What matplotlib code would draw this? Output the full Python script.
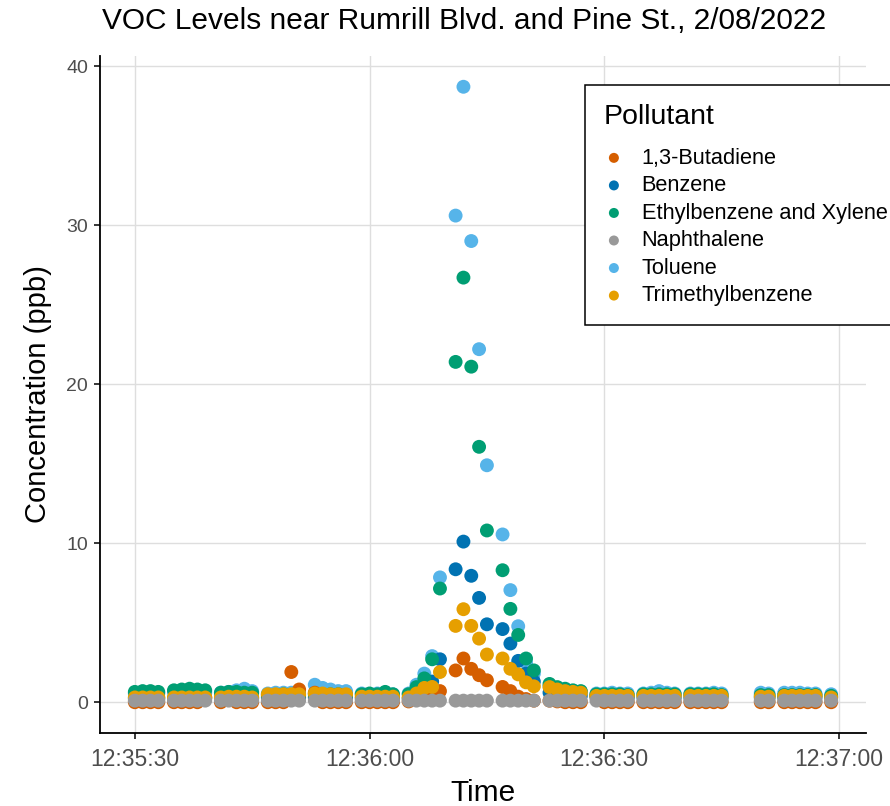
import matplotlib
matplotlib.use("Agg")
import matplotlib.pyplot as plt
import matplotlib.dates as mdates
import numpy as np
import pandas as pd

plt.rcParams['font.family'] = ['Liberation Sans', 'DejaVu Sans']

# seconds after 12:35:30 on 2/08/2022
seconds = [0, 1, 2, 3,
           5, 6, 7, 8, 9,
           11, 12, 13, 14, 15,
           17, 18, 19, 20, 21,
           23, 24, 25, 26, 27,
           29, 30, 31, 32, 33,
           35, 36, 37, 38, 39,
           41, 42, 43, 44, 45,
           47, 48, 49, 50, 51,
           53, 54, 55, 56, 57,
           59, 60, 61, 62, 63,
           65, 66, 67, 68, 69,
           71, 72, 73, 74, 75,
           80, 81,
           83, 84, 85, 86, 87,
           89]

butadiene = [0.0, 0.0, 0.0, 0.0,
             0.0, 0.0, 0.0, 0.0, 0.3,
             0.0, 0.4, 0.0, 0.0, 0.0,
             0.0, 0.0, 0.0, 1.9, 0.8,
             0.6, 0.0, 0.0, 0.0, 0.0,
             0.0, 0.0, 0.0, 0.0, 0.0,
             0.05, 0.15, 0.35, 0.5, 0.7,
             2.0, 2.75, 2.1, 1.7, 1.38,
             0.96, 0.7, 0.35, 0.2, 0.1,
             0.1, 0.05, 0.0, 0.0, 0.0,
             0.4, 0.0, 0.0, 0.0, 0.0,
             0.0, 0.0, 0.0, 0.0, 0.0,
             0.0, 0.0, 0.0, 0.0, 0.0,
             0.0, 0.0,
             0.0, 0.0, 0.0, 0.0, 0.0,
             0.0]

benzene = [0.25, 0.25, 0.25, 0.25,
           0.25, 0.3, 0.3, 0.3, 0.25,
           0.25, 0.25, 0.3, 0.3, 0.25,
           0.3, 0.3, 0.3, 0.3, 0.3,
           0.3, 0.3, 0.3, 0.3, 0.3,
           0.25, 0.25, 0.3, 0.5, 0.3,
           0.25, 0.6, 1.0, 1.3, 2.7,
           8.36, 10.1, 7.95, 6.56, 4.9,
           4.6, 3.69, 2.6, 1.8, 1.3,
           0.6, 0.5, 0.45, 0.4, 0.4,
           0.3, 0.3, 0.3, 0.3, 0.3,
           0.3, 0.3, 0.3, 0.3, 0.3,
           0.3, 0.3, 0.3, 0.3, 0.3,
           0.3, 0.3,
           0.3, 0.3, 0.3, 0.3, 0.3,
           0.3]

ethylbenzene_xylene = [0.65, 0.7, 0.7, 0.65,
                       0.75, 0.8, 0.85, 0.8, 0.75,
                       0.6, 0.65, 0.65, 0.6, 0.6,
                       0.45, 0.45, 0.5, 0.45, 0.45,
                       0.5, 0.5, 0.5, 0.5, 0.45,
                       0.5, 0.55, 0.5, 0.65, 0.5,
                       0.5, 0.95, 1.5, 2.7, 7.15,
                       21.4, 26.7, 21.1, 16.06, 10.8,
                       8.3, 5.87, 4.23, 2.75, 2.0,
                       1.15, 0.95, 0.85, 0.75, 0.7,
                       0.5, 0.5, 0.5, 0.5, 0.45,
                       0.5, 0.5, 0.5, 0.5, 0.5,
                       0.5, 0.5, 0.5, 0.5, 0.45,
                       0.45, 0.45,
                       0.45, 0.45, 0.45, 0.45, 0.45,
                       0.4]

naphthalene = [0.1] * len(seconds)

toluene = [0.55, 0.55, 0.55, 0.55,
           0.6, 0.6, 0.65, 0.65, 0.6,
           0.6, 0.65, 0.75, 0.85, 0.7,
           0.55, 0.6, 0.6, 0.6, 0.55,
           1.1, 0.9, 0.8, 0.7, 0.7,
           0.55, 0.5, 0.55, 0.55, 0.5,
           0.55, 1.1, 1.8, 2.9, 7.85,
           30.6, 38.7, 29.0, 22.2, 14.9,
           10.55, 7.05, 4.78, 2.5, 1.8,
           1.0, 0.85, 0.8, 0.7, 0.65,
           0.55, 0.55, 0.6, 0.55, 0.55,
           0.55, 0.6, 0.7, 0.6, 0.55,
           0.55, 0.55, 0.55, 0.6, 0.55,
           0.6, 0.55,
           0.6, 0.6, 0.6, 0.55, 0.55,
           0.5]

trimethylbenzene = [0.3, 0.3, 0.3, 0.3,
                    0.3, 0.3, 0.3, 0.3, 0.3,
                    0.3, 0.35, 0.35, 0.35, 0.3,
                    0.5, 0.5, 0.5, 0.5, 0.5,
                    0.55, 0.55, 0.5, 0.5, 0.5,
                    0.35, 0.35, 0.35, 0.35, 0.35,
                    0.3, 0.55, 0.9, 0.96, 1.9,
                    4.8, 5.85, 4.8, 4.0, 3.0,
                    2.75, 2.1, 1.75, 1.25, 1.0,
                    0.95, 0.8, 0.7, 0.65, 0.6,
                    0.4, 0.4, 0.4, 0.4, 0.4,
                    0.4, 0.4, 0.4, 0.4, 0.4,
                    0.4, 0.4, 0.4, 0.4, 0.4,
                    0.35, 0.35,
                    0.4, 0.4, 0.4, 0.4, 0.4,
                    0.3]

pollutants = ["1,3-Butadiene", "Benzene", "Ethylbenzene and Xylene",
              "Naphthalene", "Toluene", "Trimethylbenzene"]
series = [butadiene, benzene, ethylbenzene_xylene, naphthalene, toluene, trimethylbenzene]
colors = ["#D55E00", "#0072B2", "#009E73", "#999999", "#56B4E9", "#E69F00"]
# stacking order of the point layers, bottom first
draw_order = [4, 1, 0, 2, 5, 3]

base = pd.Timestamp("2022-02-08 12:35:30")
times = base + pd.to_timedelta(seconds, unit="s")

fig = plt.figure(figsize=(8.9, 8.06), dpi=100)
ax = fig.add_axes([100/890, 1 - 733/806, 766/890, 677/806])

handles = [None] * len(pollutants)
for z, i in enumerate(draw_order):
    handles[i] = ax.scatter(times, series[i], s=100, color=colors[i], edgecolors='none',
                            label=pollutants[i], zorder=3 + z)

# ggplot-like expansion
span = seconds[-1] - seconds[0]
ax.set_xlim(base + pd.Timedelta(seconds=seconds[0] - 0.05*span),
            base + pd.Timedelta(seconds=seconds[-1] + 0.05*span))
ymax = max(toluene)
ax.set_ylim(-0.05*ymax, ymax*1.05)

ax.xaxis.set_major_locator(mdates.SecondLocator(bysecond=[0, 30]))
ax.xaxis.set_major_formatter(mdates.DateFormatter('%H:%M:%S'))
ax.set_yticks([0, 10, 20, 30, 40])

ax.grid(True, color='#DEDEDE', linewidth=1.0, zorder=0)
ax.set_axisbelow(True)
for sp in ['top', 'right']:
    ax.spines[sp].set_visible(False)
for sp in ['left', 'bottom']:
    ax.spines[sp].set_linewidth(1.3)
    ax.spines[sp].set_color('black')
ax.tick_params(axis='both', length=4.5, width=1.1, color='black',
               labelcolor='#4D4D4D', pad=4)
ax.tick_params(axis='x', labelsize=16.5, pad=6)
ax.tick_params(axis='y', labelsize=14)

ax.set_xlabel("Time", fontsize=21.5, labelpad=6)
ax.set_ylabel("Concentration (ppb)", fontsize=21, labelpad=10)
fig.text(464/890, 1 - 21/806, "VOC Levels near Rumrill Blvd. and Pine St., 2/08/2022",
         fontsize=21.5, ha='center', va='center')

leg = ax.legend(handles=handles, title="Pollutant", loc='upper left',
                bbox_to_anchor=(585/890, 1 - 85/806), bbox_transform=fig.transFigure,
                borderaxespad=0, frameon=True, fancybox=False, framealpha=1,
                edgecolor='black', fontsize=15.7, title_fontsize=20.5,
                markerscale=0.72, handlelength=0.95, handletextpad=0.8,
                labelspacing=0.3, borderpad=0.85, alignment='left')
leg._legend_box.sep = 13
leg.get_frame().set_linewidth(1.1)
leg.set_zorder(20)

fig.savefig("out.png", dpi=100)
